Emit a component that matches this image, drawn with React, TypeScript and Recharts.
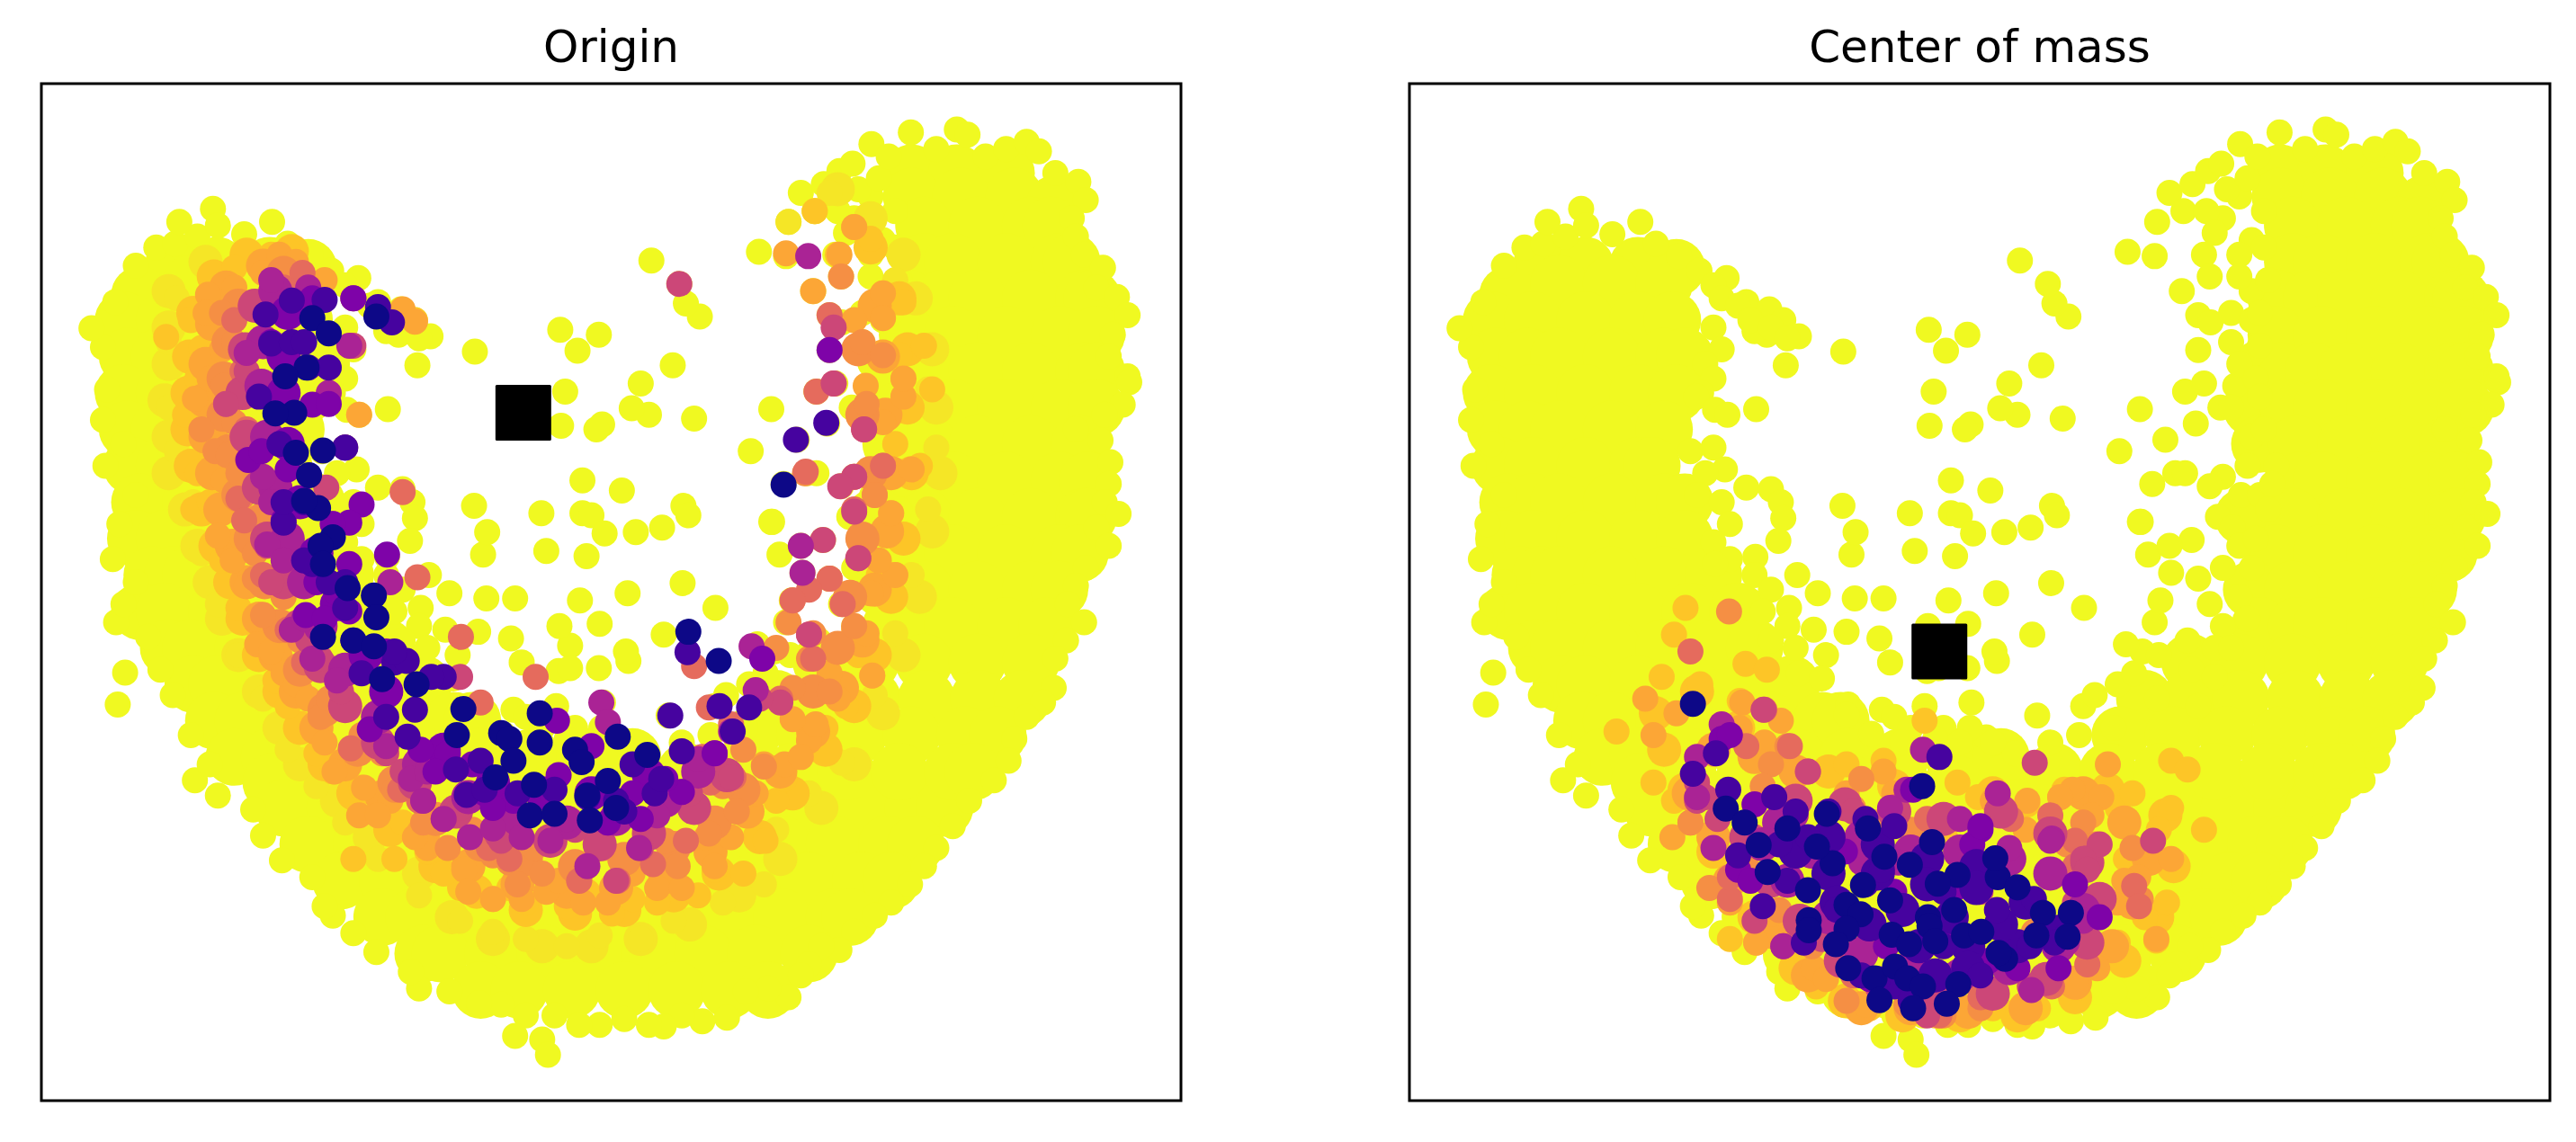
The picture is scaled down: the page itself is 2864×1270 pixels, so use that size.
import { ScatterChart, Scatter, XAxis, YAxis, ReferenceArea } from 'recharts'

type Pt = [number, number]

const X_DOMAIN: [number, number] = [50, 1438]
const Y_DOMAIN: [number, number] = [115, 1512]

// dense part of the cloud, same for both panels
const yellowCore: Pt[] = [
  [210,368],[264,365],[328,365],[375,368],[170,405],[232,390],[296,390],[360,390],
  [150,440],[200,440],[264,440],[328,440],[370,440],[155,490],[194,490],[232,490],[296,490],[360,490],[385,490],
  [150,540],[200,540],[264,540],[328,540],[375,540],[155,590],[194,590],[232,590],[296,590],[360,590],
  [160,640],[200,640],[264,640],[328,640],[345,640],[170,690],[200,690],[232,690],[296,690],[360,690],[385,690],
  [165,740],[200,740],[264,740],[328,740],[385,740],[185,790],[210,790],[232,790],[296,790],[360,790],[420,790],
  [170,840],[200,840],[264,840],[328,840],[392,840],[450,840],[205,890],[232,890],[296,890],[360,890],[424,890],[470,890],
  [235,940],[264,940],[328,940],[392,940],[456,940],[515,940],[260,990],[296,990],[360,990],[424,990],[488,990],[552,990],[575,990],
  [285,1040],[328,1040],[392,1040],[456,1040],[520,1040],[584,1040],[648,1040],[712,1040],[770,1040],
  [330,1075],[392,1075],[456,1075],[520,1075],[584,1075],[648,1075],[712,1075],[776,1075],[840,1075],[904,1075],[968,1075],[1032,1075],[1096,1075],[1160,1075],
  [345,1110],[408,1110],[472,1110],[536,1110],[600,1110],[664,1110],[728,1110],[792,1110],[856,1110],[920,1110],[984,1110],[1048,1110],[1112,1110],[1150,1110],
  [375,1160],[440,1160],[504,1160],[568,1160],[632,1160],[696,1160],[760,1160],[824,1160],[888,1160],[952,1160],[1016,1160],[1080,1160],[1115,1160],
  [415,1210],[472,1210],[536,1210],[600,1210],[664,1210],[728,1210],[792,1210],[856,1210],[920,1210],[984,1210],[1048,1210],[1085,1210],
  [465,1260],[504,1260],[568,1260],[632,1260],[696,1260],[760,1260],[824,1260],[888,1260],[952,1260],[1016,1260],[1035,1260],
  [515,1310],[536,1310],[600,1310],[664,1310],[728,1310],[792,1310],[856,1310],[920,1310],[985,1310],
  [585,1360],[632,1360],[696,1360],[760,1360],[824,1360],[888,1360],[935,1360],
  [1110,238],[1165,238],[1225,238],[1110,270],[1170,270],[1235,270],[1285,280],
  [1125,310],[1190,310],[1255,310],[1280,310],[1125,360],[1160,360],[1225,360],[1290,360],[1305,360],
  [1105,410],[1148,410],[1190,410],[1255,410],[1320,410],[1330,410],[1105,460],[1160,460],[1225,460],[1290,460],[1335,460],
  [1110,510],[1150,510],[1190,510],[1255,510],[1320,510],[1335,510],[1075,560],[1120,560],[1160,560],[1225,560],[1290,560],[1335,560],
  [1085,610],[1130,610],[1190,610],[1255,610],[1315,610],[1135,660],[1160,660],[1225,660],[1290,660],[1325,660],
  [1065,710],[1125,710],[1190,710],[1255,710],[1320,710],[1325,710],[1105,760],[1160,760],[1225,760],[1290,760],[1315,760],
  [1075,810],[1125,810],[1190,810],[1255,810],[1290,810],[1085,860],[1130,860],[1160,860],[1225,860],[1275,860],
  [1000,910],[1060,910],[1125,910],[1190,910],[1255,910],[945,960],[1000,960],[1062,960],[1128,960],[1192,960],[1245,960],
  [915,1010],[980,1010],[1045,1010],[1110,1010],[1175,1010],[1215,1010],[835,1060],[900,1060],[965,1060],[1030,1060],[1095,1060],[1160,1060],[1185,1060],
]

// single points on the rim and in the hollow, same for both panels
const yellowEdge: Pt[] = [
  [190,340],[213,335],[240,325],[218,305],[259,287],[265,310],[297,322],[331,305],[350,335],[378,352],[403,372],[436,382],[420,392],[460,415],[488,425],[505,440],[524,462],[485,460],[470,455],[508,502],[578,483],
  [430,410],[450,420],[465,440],[490,450],[510,465],[420,450],[430,480],[410,500],[420,520],[405,540],[399,545],[422,563],[437,570],[472,562],[392,620],[420,615],[434,645],[410,650],[460,670],[400,680],[430,690],[490,672],[502,690],[505,712],[440,720],[420,745],[499,743],[471,765],[440,768],[422,775],[470,790],[522,790],[490,810],[547,815],[592,822],[627,822],[512,835],[480,840],[542,865],[510,860],[582,868],[622,877],[557,900],[524,925],[552,932],[490,880],[520,890],[584,968],[582,982],[612,1008],[625,975],[677,970],
  [694,887],[635,910],[680,922],[694,918],[729,918],[765,908],[762,895],[808,872],[730,857],[681,860],[871,835],[831,801],[764,815],[706,825],[714,764],[665,757],[588,762],[593,731],[577,695],[659,705],[709,705],[720,708],[736,733],[774,731],[806,725],[832,695],[838,708],[757,674],[709,660],[939,717],[949,762],[914,620],[939,562],[845,575],[790,570],[769,561],[733,583],[726,590],[683,585],[688,538],[780,527],[819,502],[703,482],[682,453],[729,460],[852,435],[835,417],[793,358],[827,390],
  [640,985],[660,1000],[700,1000],[734,965],[752,1013],[732,1000],[787,1035],[814,983],[870,970],[884,955],[912,940],[907,1000],[932,925],[942,895],[922,885],[962,900],[997,880],[957,855],[964,825],[1002,920],[650,1020],[690,1015],[720,1020],[760,1020],[830,1020],[865,1010],[960,960],[1030,930],[1010,970],
  [924,346],[957,352],[960,305],[975,265],[992,290],[1003,253],[1022,235],[1038,225],[1017,350],[1024,380],[990,400],[1010,433],[1025,443],[1050,470],[1010,481],[1075,488],[994,538],[1017,527],[1055,530],[1007,582],[1037,560],[970,604],[954,665],[940,717],[982,650],[994,650],[1040,655],[1024,668],[1062,680],[1034,710],[1052,725],[1002,742],[975,750],[977,787],[1010,795],[1024,830],[1040,300],[1060,270],[1020,290],[1075,330],[1060,350],[1030,320],[1075,400],[1050,430],[1075,440],[1060,500],[1050,560],[1075,600],[1070,640],[1085,680],[1060,750],[1040,780],[1060,820],[1040,860],[1030,890],
  [1045,260],[1070,245],[1090,290],[1090,340],[1095,385],[1060,380],[1085,430],[1085,475],[1080,520],[1085,545],[1090,590],[1105,640],[1100,665],[1095,700],[1080,740],[1075,780],[1070,850],[1050,890],
  [1061,198],[1082,215],[1109,182],[1140,205],[1165,178],[1178,185],[1200,215],[1225,205],[1250,195],[1265,208],[1285,238],[1313,250],[1322,275],[1305,300],[1310,325],[1320,350],[1343,368],[1335,395],[1360,408],[1373,433],[1355,460],[1350,490],[1373,517],[1375,525],[1367,556],[1345,570],[1310,590],[1340,605],[1352,635],[1350,665],[1345,690],[1362,706],[1335,725],[1350,750],[1322,780],[1310,805],[1300,830],[1320,855],[1298,880],[1285,905],[1283,945],[1270,965],[1250,985],[1235,1015],[1228,1045],[1210,1072],[1180,1100],[1160,1135],[1140,1165],[1125,1190],[1108,1215],[1085,1240],[1065,1258],[1040,1280],[1022,1305],[1000,1300],[985,1325],[975,1340],[960,1370],[935,1358],[908,1362],[885,1398],[855,1403],[830,1395],[808,1410],[790,1408],[760,1400],[730,1408],[705,1408],[675,1395],[640,1395],[610,1380],[583,1378],[547,1362],[510,1358],[500,1335],[458,1308],[430,1282],[405,1258],[395,1245],[380,1205],[343,1182],[320,1148],[308,1112],[265,1093],[237,1072],[255,1050],[232,1010],[210,955],[195,920],[143,968],[152,924],[180,875],[141,855],[150,830],[165,800],[137,768],[145,720],[165,680],[128,640],[150,610],[125,577],[130,535],[125,477],[111,451],[140,415],[165,365],[627,1423],[660,1428],[667,1449],
]

// left panel: overlapping clumps of each shade along the band
const originPaleBand: Pt[] = [
  [250,360],[205,400],[205,450],[205,500],[200,550],[205,600],[205,650],[225,700],[240,750],[255,800],[270,850],[290,900],[315,950],[340,1000],[365,1050],[410,1100],[450,1150],[510,1200],[550,1260],[600,1290],[660,1300],[720,1300],[780,1290],[840,1270],[900,1230],[950,1180],[1000,1110],[1040,1050],[1075,980],[1100,900],[1120,820],[1135,730],[1145,650],[1140,560],[1135,480],[1115,410],[1100,350],[1060,300],[1020,260],
]
const originGoldBand: Pt[] = [
  [300,350],[355,345],[260,380],[235,430],[230,490],[228,540],[228,590],[232,640],[245,700],[262,750],[280,800],[295,850],[315,900],[340,950],[365,1000],[395,1050],[430,1090],[475,1140],[530,1190],[580,1225],[640,1250],[700,1255],[760,1250],[820,1230],[875,1200],[925,1150],[965,1090],[1005,1030],[1040,970],[1065,900],[1085,820],[1100,740],[1110,650],[1105,560],[1105,480],[1095,410],[1060,340],
]
const originAmberBand: Pt[] = [
  [320,365],[275,395],[258,445],[250,500],[248,550],[250,600],[258,650],[268,700],[282,750],[300,800],[315,850],[335,900],[360,950],[385,1000],[420,1050],[465,1095],[515,1145],[570,1190],[630,1215],[690,1225],[750,1220],[810,1205],[865,1170],[910,1115],[950,1060],[990,1005],[1025,945],[1050,880],[1065,810],[1080,730],[1085,650],[1078,570],[1075,490],[1065,420],
]
const originOrangeBand: Pt[] = [
  [345,375],[290,420],[278,470],[272,520],[272,570],[278,620],[290,680],[305,740],[322,800],[340,860],[365,920],[395,975],[435,1030],[480,1075],[530,1125],[585,1160],[640,1180],[700,1190],[760,1180],[820,1165],[870,1130],[905,1085],[990,950],[1020,890],[1035,820],[1050,740],[1060,650],[1050,570],[1045,480],
]
const originRoseBand: Pt[] = [
  [310,420],[298,480],[295,540],[300,600],[315,670],[325,740],[345,800],[365,860],[390,915],[420,970],[460,1020],[505,1075],[555,1115],[610,1145],[670,1155],[730,1160],[790,1145],[845,1110],[885,1065],
]
const originMagentaBand: Pt[] = [
  [335,400],[320,470],[318,530],[325,600],[335,670],[350,740],[370,800],[390,860],[420,920],[460,985],[510,1050],[570,1095],[630,1125],[690,1130],[750,1125],[810,1100],[850,1060],
]
const originPurpleBand: Pt[] = [
  [350,430],[345,490],[345,540],[350,610],[365,690],[385,760],[410,830],[445,900],[470,950],[540,1030],[600,1075],[660,1090],[720,1090],[790,1065],
]

// left panel single points, outermost tint first
const originPale: Pt[] = [
  [215,410],[205,470],[205,560],[215,620],[235,690],[245,760],[265,830],[290,900],[320,960],[350,1030],[385,1080],[420,1130],[460,1180],[510,1230],[560,1265],[600,1280],[640,1290],[690,1300],[730,1285],[780,1290],[820,1265],[880,1240],[930,1215],[945,1140],[985,1090],[1025,1048],[1065,955],[1090,870],[1110,790],[1130,700],[1140,615],[1130,535],[1125,475],[1100,415],[1090,385],[1010,265],[960,305],[992,290],[1040,312],
]
const originGold: Pt[] = [
  [285,368],[350,345],[330,350],[255,405],[232,440],[245,478],[202,463],[240,520],[225,570],[240,650],[235,700],[255,690],[270,770],[300,800],[290,835],[313,885],[335,935],[350,970],[385,1035],[405,1060],[440,1082],[470,1100],[490,1130],[520,1170],[560,1220],[600,1235],[640,1240],[690,1245],[745,1255],[800,1240],[850,1230],[905,1200],[932,1155],[945,1100],[985,1015],[1030,970],[1062,928],[1060,815],[1090,790],[1085,705],[1110,650],[1100,545],[1100,520],[1135,535],[1040,312],[1060,328],[992,290],[1020,350],[1075,403],[1100,415],[1125,475],[1095,488],[505,440],[430,1180],[480,1180],[540,1200],[620,1220],[715,1225],[770,1235],[870,1195],[955,1070],[1005,1000],[1045,900],[1070,790],[1090,610],[1120,640],
]
const originAmber: Pt[] = [
  [237,548],[253,405],[265,736],[283,770],[270,480],[285,395],[320,375],[340,350],[360,360],[395,385],[490,425],[505,442],[437,570],[313,885],[320,845],[345,925],[360,940],[390,985],[407,1060],[443,1082],[437,1120],[475,1100],[520,1165],[565,1195],[570,1225],[600,1235],[635,1235],[665,1225],[710,1240],[740,1240],[800,1220],[830,1220],[870,1190],[890,1150],[930,1050],[955,1050],[985,1018],[993,995],[965,988],[1010,925],[1062,928],[1040,865],[1060,815],[1090,790],[1070,770],[1085,705],[1065,680],[990,400],[1075,403],[1075,437],[1022,350],[1040,312],[957,348],[1100,545],[1075,580],[1054,530],[1110,645],[1040,440],[1100,520],[250,430],[255,520],[262,590],[272,660],[295,740],[300,805],[330,895],[375,960],[395,1020],[460,1120],[505,1150],[680,1210],[770,1200],[860,1150],[920,1090],[975,1040],[1020,960],[1055,870],
]
const originOrange: Pt[] = [
  [245,590],[262,620],[278,625],[310,795],[345,865],[320,845],[390,985],[427,1028],[465,1035],[515,1130],[545,1165],[600,1175],[620,1185],[630,1215],[660,1200],[705,1210],[780,1165],[825,1190],[863,1145],[897,1115],[930,1053],[1010,795],[1026,830],[1040,860],[1010,950],[1050,470],[1075,488],[1024,380],[1055,555],[1075,640],[980,650],[1065,680],[960,855],[965,825],[990,870],[985,905],[945,890],[270,430],[285,470],[272,530],[285,580],[290,650],[315,710],[310,760],[345,820],[365,880],[400,960],[440,1010],[480,1085],[575,1140],[650,1165],[735,1165],[810,1155],[880,1080],[905,1030],[965,945],
]
const originSalmon: Pt[] = [
  [285,440],[305,420],[275,555],[290,685],[297,715],[368,375],[345,395],[508,793],[561,875],[652,930],[585,965],[490,676],[350,865],[1010,433],[1052,590],[1015,527],[994,538],[1040,655],[981,648],[1075,640],[1040,700],[1045,767],[1010,795],[985,810],[965,825],[985,872],[990,905],[1026,830],[845,915],[863,972],[890,995],[950,960],[893,1068],[705,1210],[752,1210],[835,1155],[620,1180],[540,1125],[295,510],[300,590],[320,790],[370,910],[427,1028],[487,1085],[510,1100],[595,1165],[795,1187],[865,1075],[855,1040],
]
const originRose: Pt[] = [
  [827,390],[1015,450],[1015,527],[1052,590],[1040,655],[1023,668],[1040,703],[1002,742],[1045,767],[985,872],[397,670],[275,555],[950,965],[925,960],[870,1042],[780,1165],[750,1210],[360,780],[390,905],[470,1035],[515,1100],[540,1125],[610,1155],[670,1155],[700,1140],[560,930],[430,475],[325,750],[300,510],[330,800],[375,880],[415,950],[490,1060],[560,1110],[840,1090],[890,1068],
]
const originMagenta: Pt[] = [
  [975,750],[977,787],[984,352],[732,965],[740,992],[915,888],[920,948],[890,1005],[870,1035],[850,1043],[715,1190],[778,1165],[670,1155],[635,1150],[572,1150],[600,1138],[540,1125],[515,1100],[500,1070],[470,1025],[410,935],[380,905],[355,865],[325,748],[345,770],[320,655],[300,485],[330,385],[375,395],[430,410],[425,475],[400,540],[405,720],[475,800],[830,1088],[800,1120],[370,850],[520,1060],[690,1125],[740,1130],[330,690],
]
const originPurple: Pt[] = [
  [1010,481],[928,905],[678,990],[471,762],[440,693],[420,615],[302,632],[318,620],[380,556],[400,555],[330,470],[380,410],[430,410],[345,715],[375,770],[425,775],[372,845],[395,850],[410,815],[470,895],[425,840],[450,1002],[512,1030],[545,1035],[575,1050],[625,1100],[680,1065],[720,1025],[770,1090],[780,1125],[830,1088],[870,1035],[650,1080],[590,1090],[740,1130],[810,1070],[425,718],[405,720],[350,645],[385,800],[530,1060],[600,1110],
]
const originIndigo: Pt[] = [
  [816,983],[837,896],[876,970],[892,1005],[912,972],[715,1095],[770,1050],[830,1032],[797,1090],[760,1115],[675,1085],[568,1092],[555,1057],[585,1045],[496,1012],[470,985],[505,975],[540,930],[525,930],[440,925],[480,910],[495,908],[430,880],[480,895],[420,800],[400,800],[380,775],[370,770],[345,718],[345,690],[370,690],[340,610],[315,545],[330,472],[355,470],[375,505],[400,505],[420,615],[323,432],[355,413],[395,412],[460,422],[477,443],[370,470],[1006,581],[969,604],[420,835],[590,1085],[630,1090],[805,1070],[750,1100],
]
const originNavy: Pt[] = [
  [458,435],[380,437],[400,458],[373,505],[347,517],[358,567],[335,568],[393,619],[360,622],[376,653],[387,698],[370,688],[405,738],[390,750],[393,775],[423,808],[455,818],[458,848],[393,875],[430,880],[455,888],[465,933],[507,940],[564,974],[556,1010],[610,1007],[620,1015],[657,1020],[700,1030],[708,1047],[752,1012],[788,1037],[740,1073],[657,980],[625,1045],[603,1068],[650,1078],[715,1093],[750,1110],[718,1127],[645,1120],[675,1118],[838,868],[875,908],[954,666],
]

// right panel, x read relative to the same axis
const massGoldBand: Pt[] = [
  [360,1030],[350,980],[400,950],[385,1085],[420,1170],[470,1260],[520,1330],[580,1375],[650,1395],[720,1395],[790,1395],[860,1370],[920,1320],[960,1260],[980,1190],[970,1120],[900,1085],[760,1090],[640,1080],[560,1060],[450,1000],
]
const massAmberBand: Pt[] = [
  [390,1090],[420,1150],[440,1210],[490,1280],[535,1340],[600,1385],[660,1385],[730,1390],[800,1385],[860,1350],[905,1300],[930,1240],[950,1180],[920,1130],[870,1090],[420,1030],[470,1040],[520,1060],
]
const massRoseBand: Pt[] = [
  [460,1150],[490,1210],[525,1265],[575,1320],[625,1355],[690,1365],[760,1365],[825,1345],[875,1295],[890,1235],[875,1185],[830,1145],[770,1115],[700,1125],[640,1115],[580,1105],[520,1100],
]
const massMagentaBand: Pt[] = [
  [500,1130],[540,1170],[600,1150],[660,1170],[720,1170],[780,1180],[830,1200],[870,1250],[840,1300],[780,1330],[720,1340],[660,1330],[600,1310],[560,1260],[510,1210],[480,1160],
]
const massIndigoBand: Pt[] = [
  [520,1170],[560,1150],[620,1160],[680,1180],[740,1190],[560,1200],[620,1200],[680,1215],[740,1220],[800,1240],[840,1280],[790,1300],[730,1300],[670,1300],[610,1270],[570,1240],[650,1250],[710,1260],[770,1270],[730,1330],[690,1340],
]
const massGold: Pt[] = [
  [386,835],[372,872],[459,912],[485,920],[357,930],[404,940],[452,963],[302,1005],[627,1045],[582,1050],[677,990],[347,1075],[372,1100],[892,1095],[847,1085],[977,1045],[997,1057],[1017,1140],[977,1110],[717,1075],[742,1095],[472,1295],[862,1357],[912,1295],[959,1292],[922,1180],[962,1140],[972,1240],[702,1150],[802,1105],[842,1095],[912,1110],[440,1290],[545,1355],[610,1385],[660,1380],[690,1395],[760,1385],[815,1385],[945,1260],[930,1090],
]
const massAmber: Pt[] = [
  [337,960],[347,1010],[392,1130],[370,1150],[452,1000],[482,1020],[502,990],[900,1050],[857,1085],[842,1095],[892,1095],[977,1180],[937,1205],[912,1240],[959,1290],[887,1330],[862,1355],[472,1295],[492,1255],[542,1330],[557,1345],[627,1060],[582,1090],[802,1100],[375,980],[455,965],[640,1090],[760,1100],[800,1140],[920,1210],[505,1030],[605,1380],[830,1345],[880,1120],[440,1240],[510,1290],
]
const massOrange: Pt[] = [
  [439,840],[582,1375],[392,1130],[415,1220],[460,1190],[490,1050],[510,1025],[480,1080],[590,1110],[620,1130],[660,1140],[870,1130],[850,1160],[940,1235],[930,1165],[885,1160],[870,1290],[875,1255],[745,1385],[700,1395],[745,1360],[655,1380],[540,1300],[500,1250],[775,1320],[600,1070],[810,1280],
]
const massSalmon: Pt[] = [
  [392,895],[482,975],[460,1025],[440,1235],[513,1025],[535,1060],[782,1125],[830,1120],[860,1155],[932,1217],[938,1245],[875,1325],[832,1355],[745,1370],[695,1395],[620,1290],[590,1340],[510,1100],[440,1205],[470,1150],[495,1095],[860,1190],[680,1125],
]
const massRose: Pt[] = [
  [481,975],[811,1048],[890,1160],[955,1155],[470,1265],[505,1300],[535,1060],[410,1095],[425,1125],[400,1100],[590,1115],[745,1225],[860,1240],[870,1180],[805,1355],[695,1370],[680,1395],[552,1290],[400,1075],[875,1195],[640,1130],
]
const massMagenta: Pt[] = [
  [430,995],[400,1040],[675,1030],[655,1085],[635,1110],[766,1090],[720,1125],[832,1152],[780,1165],[830,1155],[857,1260],[807,1360],[505,1300],[420,1165],[400,1095],[520,1120],[600,1185],[850,1295],[720,1215],[645,1185],[870,1265],
]
const massPurple: Pt[] = [
  [430,1015],[440,1010],[840,1330],[745,1140],[735,1160],[745,1135],[860,1215],[663,1085],[450,1195],[465,1210],[580,1170],[640,1225],[715,1220],[610,1345],[690,1345],[790,1330],[890,1260],[525,1170],[470,1105],[755,1320],[700,1290],[630,1300],
]
const massIndigo: Pt[] = [
  [395,1063],[423,1035],[695,1040],[438,1085],[494,1095],[520,1115],[640,1135],[560,1115],[605,1125],[450,1175],[500,1160],[535,1150],[605,1215],[625,1195],[700,1225],[765,1250],[810,1235],[850,1285],[805,1300],[835,1295],[600,1340],[640,1355],[700,1300],[745,1340],[660,1375],[620,1345],[530,1295],[480,1245],[570,1250],[510,1210],
]
const massNavy: Pt[] = [
  [395,967],[674,1080],[435,1111],[458,1130],[475,1161],[510,1138],[558,1118],[608,1138],[628,1177],[659,1188],[686,1157],[717,1202],[693,1214],[766,1205],[486,1198],[535,1223],[565,1186],[546,1163],[602,1216],[635,1237],[582,1243],[599,1256],[681,1260],[683,1272],[713,1250],[725,1285],[746,1280],[821,1254],[855,1254],[813,1285],[851,1287],[775,1317],[767,1309],[637,1284],[658,1297],[690,1293],[536,1264],[536,1278],[582,1276],[569,1297],[584,1330],[616,1344],[641,1328],[656,1344],[675,1355],[718,1352],[704,1379],[663,1385],[622,1374],[763,1179],[790,1219],
]

const SHADES = {
  yellow: '#f0f921',
  pale: '#f5e626',
  gold: '#fdc527',
  amber: '#fca636',
  orange: '#f58f44',
  salmon: '#e56b5d',
  rose: '#cc4778',
  magenta: '#aa2395',
  purple: '#7e03a8',
  indigo: '#46039f',
  navy: '#0d0887',
}

const POINT_R = 14.5
const BAND_R = 19

type Layer = [string, Pt[], number]

const originLayers: Layer[] = [
  [SHADES.pale, originPaleBand, BAND_R],
  [SHADES.pale, originPale, POINT_R],
  [SHADES.gold, originGoldBand, BAND_R],
  [SHADES.gold, originGold, POINT_R],
  [SHADES.amber, originAmberBand, BAND_R],
  [SHADES.amber, originAmber, POINT_R],
  [SHADES.orange, originOrangeBand, BAND_R],
  [SHADES.orange, originOrange, POINT_R],
  [SHADES.salmon, originSalmon, POINT_R],
  [SHADES.rose, originRoseBand, BAND_R],
  [SHADES.rose, originRose, POINT_R],
  [SHADES.magenta, originMagentaBand, BAND_R],
  [SHADES.magenta, originMagenta, POINT_R],
  [SHADES.purple, originPurpleBand, BAND_R],
  [SHADES.purple, originPurple, POINT_R],
  [SHADES.indigo, originIndigo, POINT_R],
  [SHADES.navy, originNavy, POINT_R],
]

const massLayers: Layer[] = [
  [SHADES.gold, massGoldBand, BAND_R],
  [SHADES.gold, massGold, POINT_R],
  [SHADES.amber, massAmberBand, BAND_R],
  [SHADES.amber, massAmber, POINT_R],
  [SHADES.orange, massOrange, POINT_R],
  [SHADES.salmon, massSalmon, POINT_R],
  [SHADES.rose, massRoseBand, BAND_R],
  [SHADES.rose, massRose, POINT_R],
  [SHADES.magenta, massMagentaBand, BAND_R],
  [SHADES.magenta, massMagenta, POINT_R],
  [SHADES.purple, massPurple, POINT_R],
  [SHADES.indigo, massIndigoBand, BAND_R],
  [SHADES.indigo, massIndigo, POINT_R],
  [SHADES.navy, massNavy, POINT_R],
]

const toRows = (pts: Pt[]) => pts.map(([x, y]) => ({ x, y }))

const disc = (r: number, fill: string) => (p: any) => <circle cx={p.cx} cy={p.cy} r={r} fill={fill} />
const squareMark = (p: any) => <rect x={p.cx - 31} y={p.cy - 31} width={62} height={62} rx={1.5} fill="#000" />

interface PanelProps {
  title: string
  left: number
  marginLeft: number
  marginRight: number
  layers: Layer[]
  anchor: Pt
}

function Panel({ title, left, marginLeft, marginRight, layers, anchor }: PanelProps) {
  return (
    <div style={{ position: 'absolute', left, top: 0, width: 1432, height: 1270 }}>
      <div
        style={{
          position: 'absolute',
          left: marginLeft,
          width: 1432 - marginLeft - marginRight,
          top: 27,
          textAlign: 'center',
          font: '50px/50px "DejaVu Sans"',
          color: '#000',
        }}
      >
        {title}
      </div>
      <ScatterChart
        width={1432}
        height={1270}
        margin={{ top: 93, bottom: 46, left: marginLeft, right: marginRight }}
      >
        <XAxis type="number" dataKey="x" domain={X_DOMAIN} hide allowDataOverflow />
        <YAxis type="number" dataKey="y" domain={Y_DOMAIN} reversed hide allowDataOverflow />
        <Scatter data={toRows(yellowCore)} shape={disc(32, SHADES.yellow)} isAnimationActive={false} />
        <Scatter data={toRows(yellowEdge)} shape={disc(POINT_R, SHADES.yellow)} isAnimationActive={false} />
        {layers.map(([color, pts, r], i) => (
          <Scatter key={i} data={toRows(pts)} shape={disc(r, color)} isAnimationActive={false} />
        ))}
        <Scatter data={toRows([anchor])} shape={squareMark} isAnimationActive={false} />
        <ReferenceArea
          x1={X_DOMAIN[0]}
          x2={X_DOMAIN[1]}
          y1={Y_DOMAIN[0]}
          y2={Y_DOMAIN[1]}
          fill="none"
          stroke="#000"
          strokeWidth={3}
        />
      </ScatterChart>
    </div>
  )
}

export default function App() {
  return (
    <div style={{ position: 'absolute', left: 0, top: 0, width: 2864, height: 1270, background: '#fff' }}>
      <Panel title="Origin" left={0} marginLeft={46} marginRight={119} layers={originLayers} anchor={[637, 567]} />
      <Panel title="Center of mass" left={1432} marginLeft={135} marginRight={29} layers={massLayers} anchor={[695, 895]} />
    </div>
  )
}
